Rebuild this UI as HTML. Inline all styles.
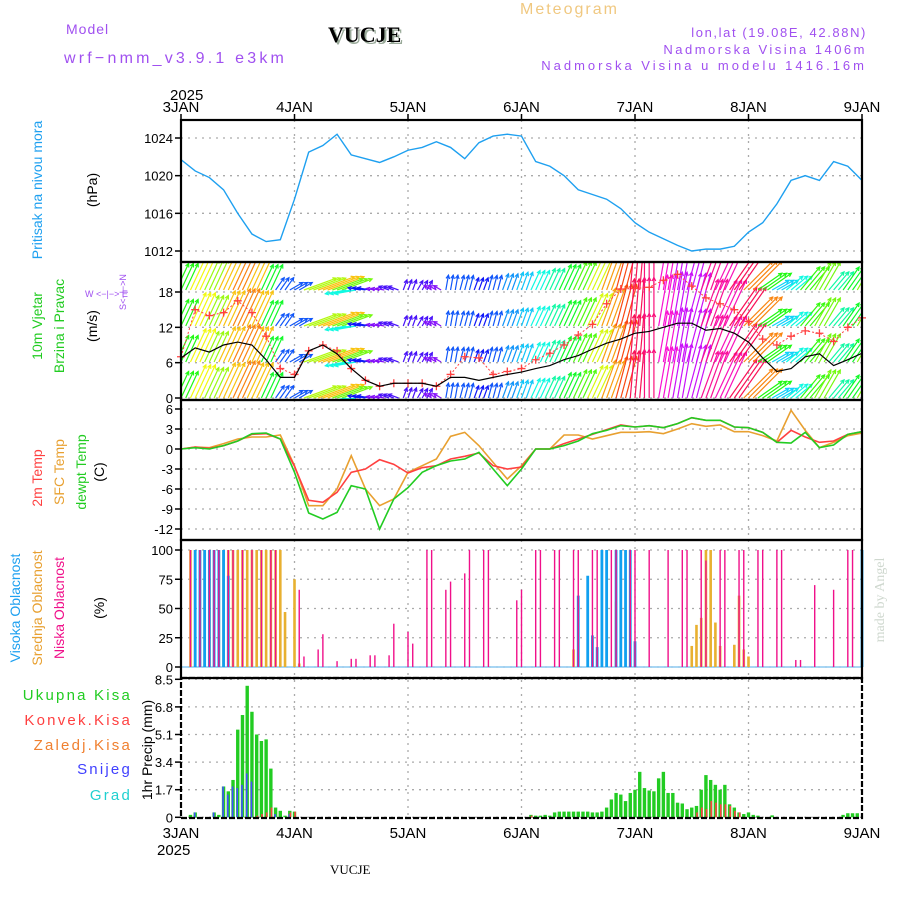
<!DOCTYPE html>
<html><head><meta charset="utf-8"><style>
body{margin:0;background:#fff}
svg{display:block;font-family:"Liberation Sans",sans-serif}
</style></head><body>
<svg id="c" width="900" height="900" viewBox="0 0 900 900" xmlns="http://www.w3.org/2000/svg">
<rect x="0" y="0" width="900" height="900" fill="#fff"/>
<text x="520" y="14" fill="#f0c880" font-size="16" letter-spacing="2">Meteogram</text>
<text x="66" y="34" fill="#a050f0" font-size="14" letter-spacing="1">Model</text>
<text x="64" y="63" fill="#a050f0" font-size="16" letter-spacing="3.2">wrf−nmm_v3.9.1 e3km</text>
<text x="330" y="44" font-family="Liberation Serif,serif" font-weight="bold" font-size="22" fill="#9a9">VUCJE</text>
<text x="328" y="42" font-family="Liberation Serif,serif" font-weight="bold" font-size="22" fill="#000">VUCJE</text>
<text x="867" y="37" text-anchor="end" fill="#a050f0" font-size="13" letter-spacing="1.6">lon,lat (19.08E, 42.88N)</text>
<text x="867" y="54" text-anchor="end" fill="#a050f0" font-size="13" letter-spacing="2.5">Nadmorska Visina 1406m</text>
<text x="867" y="70" text-anchor="end" fill="#a050f0" font-size="13" letter-spacing="3">Nadmorska Visina u modelu 1416.16m</text>
<text x="170" y="100" font-size="15">2025</text>
<text x="157" y="855" font-size="15">2025</text>
<text x="330" y="874" font-family="Liberation Serif,serif" font-size="13">VUCJE</text>
<g font-size="14">
<text transform="translate(42,190) rotate(-90)" text-anchor="middle" fill="#1ea0f0">Pritisak na nivou mora</text>
<text transform="translate(97,190) rotate(-90)" text-anchor="middle" fill="#000">(hPa)</text>
<text transform="translate(42,326) rotate(-90)" text-anchor="middle" fill="#22cc22">10m Vjetar</text>
<text transform="translate(64,326) rotate(-90)" text-anchor="middle" fill="#22cc22">Brzina i Pravac</text>
<text transform="translate(97,326) rotate(-90)" text-anchor="middle" fill="#000">(m/s)</text>
<text transform="translate(42,478) rotate(-90)" text-anchor="middle" fill="#ff4040">2m Temp</text>
<text transform="translate(64,472) rotate(-90)" text-anchor="middle" fill="#e8a030">SFC Temp</text>
<text transform="translate(86,472) rotate(-90)" text-anchor="middle" fill="#22cc22">dewpt Temp</text>
<text transform="translate(104,472) rotate(-90)" text-anchor="middle" fill="#000">(C)</text>
<text transform="translate(20,608) rotate(-90)" text-anchor="middle" fill="#1ea0f0">Visoka Oblacnost</text>
<text transform="translate(42,608) rotate(-90)" text-anchor="middle" fill="#e8a030">Srednja Oblacnost</text>
<text transform="translate(64,608) rotate(-90)" text-anchor="middle" fill="#f0108a">Niska Oblacnost</text>
<text transform="translate(104,608) rotate(-90)" text-anchor="middle" fill="#000">(%)</text>
<text transform="translate(152,750) rotate(-90)" text-anchor="middle" fill="#000">1hr Precip (mm)</text>
</g>
<g font-size="15" letter-spacing="2.2" text-anchor="end">
<text x="132" y="700" fill="#22cc22">Ukupna Kisa</text>
<text x="132" y="725" fill="#ff4040">Konvek.Kisa</text>
<text x="132" y="750" fill="#f08030">Zaledj.Kisa</text>
<text x="132" y="774" fill="#4040ff">Snijeg</text>
<text x="132" y="800" fill="#20d0d0">Grad</text>
</g>
<g font-size="9" fill="#a050f0">
<text transform="translate(126,292) rotate(-90)" text-anchor="middle">S&lt;−|−&gt;N</text>
<text x="85" y="297">W  &lt;−|−&gt;  E</text>
</g>
<text transform="translate(884,600) rotate(-90)" text-anchor="middle" font-family="Liberation Serif,serif" font-size="14" fill="#cfd8cf">made by Angel</text>
<defs>
<clipPath id="cp1"><rect x="181" y="120" width="681" height="142"/></clipPath>
<clipPath id="cp2"><rect x="181" y="262" width="681" height="138"/></clipPath>
<clipPath id="cp3"><rect x="181" y="400" width="681" height="140"/></clipPath>
</defs>
<g id="g"></g>
</svg>
<script>
// ---- data (3-hourly, 49 points from 3 JAN 00 to 9 JAN 00) ----
const days = ["3JAN","4JAN","5JAN","6JAN","7JAN","8JAN","9JAN"];
const pressure = [1021.7,1020.5,1019.8,1018.5,1016,1013.8,1013,1013.2,1017.5,1022.5,1023.2,1024.4,1022.2,1021.8,1021.4,1022,1022.7,1023,1023.6,1023,1021.8,1023.5,1024.2,1024.4,1024.2,1021.5,1021,1020,1018.5,1018,1017.5,1016.5,1015,1014,1013.3,1012.6,1012,1012.2,1012.2,1012.5,1014,1015,1017,1019.5,1020,1019.5,1021.5,1021,1019.5];
const pressureTicks = [1012,1016,1020,1024];
const windSpeed = [6.8,8.5,7.8,9,9.5,9,6.5,3.5,3.5,8,9,7.5,5,3,2,2.5,2.5,2.5,2,3.5,3.5,3,3.5,4,4.4,5,5.5,6.5,7.2,8.3,9.3,10,11,11.3,12,12.7,12.7,11.5,11.8,11,9.5,6.8,4.5,5,7,7.5,5.5,6.5,7.6];
const windGust = [7,15,14,14.5,16.5,14.5,10.5,5,4,8,9,8,5,3,2,2.5,2.5,2.5,2,4,7,6.8,4,4.5,5,6.5,7.6,9,10.7,12.5,16,18.5,18.6,18.8,20,21,19,17,16,15,13,10,9,10.5,11.4,11,9.6,12,13.6];
const windDir = [25,25,25,25,25,25,25,35,60,70,70,70,260,280,280,290,20,30,300,10,15,20,15,20,20,25,25,25,25,25,20,15,5,0,10,10,15,20,25,35,45,55,60,50,40,30,40,35,30];
const windTicks = [0,6,12,18];
const temp2m = [0,0.3,0.1,0.5,1.2,2.2,2.3,1.5,-2.6,-7.7,-8,-6.5,-3.5,-3,-1.6,-2.3,-3.6,-2.8,-2.5,-1.5,-1.1,-0.6,-2.5,-3,-2.7,0,0,0.8,1.5,2.2,2.9,3.6,3.3,3.5,3.2,3.8,4.7,4.3,4.3,3.3,3.2,2.5,1.0,2.8,1.8,1,1.2,2.2,2.6];
const tempSfc = [0,0.3,0.2,0.8,1.5,1.8,1.8,2.1,-2.5,-8.5,-8.5,-6,-1,-6,-8.5,-7.5,-3.5,-2.5,-1.5,1.9,2.5,0.5,-2,-4.5,-2.5,0,0,2.1,2.1,1.5,2,2.5,2.5,2.6,2.3,3,3.8,3.4,3.6,2.6,2.6,2.0,1.2,5.8,2.8,0.2,1.0,2.0,2.4];
const tempDew = [0,0.2,0,0.5,1.2,2.3,2.4,1.5,-3.5,-9.6,-10.5,-9.5,-5.5,-6,-12,-7.5,-5.8,-3.5,-2.5,-1.8,-1.5,-0.5,-3,-5.5,-3,0,0,0.5,1.2,2.3,2.8,3.5,3.3,3.5,3.2,3.8,4.7,4.3,4.3,3.3,3.2,2.5,1.0,0.9,2.5,0.2,0.6,2.2,2.6];
const tempTicks = [-12,-9,-6,-3,0,3,6];
// clouds (hour index, percent)
const lowHours = [2,4,6,7,8,10,11,13,15,17,19,20,25,26,29,30,33,36,37,40,41,44,45,48,49,52,53,56,57,60,61,64,65,71,72,75,76,79,80,83,84,87,88,91,92,95,96,99,103,106,107,110,111,114,115,118,119,122,123,126,127,130,131,134,138,141,142];
const lowVals  = [100,100,100,100,100,100,100,100,100,100,100,100,66,9,15,28,5,7,7,10,10,10,37,30,20,100,100,66,73,80,100,100,100,57,66,100,100,100,100,100,100,100,100,100,100,100,100,100,100,100,100,100,91,100,100,100,100,100,100,100,100,6,6,70,66,100,100];
const midHours = [2,3,4,5,6,7,8,9,10,11,12,13,14,15,16,17,18,19,20,21,22,24,25,83,92,108,109,110,111,112,113,114,117,118,119,120];
const midVals  = [100,100,100,100,100,100,100,100,100,100,100,100,100,100,100,100,100,100,100,100,47,75,3,15,56,18,36,42,100,100,38,18,19,61,15,9];
const highHours = [3,4,5,6,7,8,9,10,84,86,87,88,89,90,92,93,94,95,96,144];
const highVals  = [100,100,100,100,100,100,100,78,61,78,27,17,100,100,100,100,100,100,22,100];
const cloudTicks = [0,25,50,75,100];
// precipitation (hour index, mm)
const precipHours = [2,3,7,8,9,10,11,12,13,14,15,16,17,18,19,20,21,22,23,24,74,75,76,77,78,79,80,81,82,83,84,85,86,87,88,89,90,91,92,93,94,95,96,97,98,99,100,101,102,103,104,105,106,107,108,109,110,111,112,113,114,115,116,117,118,119,120,121,122,125,140,141,142,143];
const precipTotal = [0.15,0.3,0.3,0.15,1.9,1.6,2.3,5.4,6.3,8.1,6.5,5.1,4.7,4.8,3.0,0.6,0.4,0.1,0.4,0.35,0.15,0.1,0.1,0.15,0.1,0.3,0.35,0.35,0.35,0.35,0.35,0.35,0.35,0.3,0.3,0.35,0.6,1.1,1.5,1.4,1.0,1.5,1.7,2.8,1.8,1.65,1.6,2.4,2.8,1.5,1.5,0.9,0.85,0.5,0.6,0.7,1.7,2.6,2.3,2.0,1.7,2.0,0.8,0.6,0.3,0.2,0.3,0.15,0.1,0.12,0.15,0.25,0.25,0.25];
const precipConv  = [0,0,0,0,0,0,0,0,0,0,0,0.1,0.2,0.3,0.6,0,0,0,0.3,0.35,0.1,0,0,0,0,0,0,0,0,0,0,0,0,0,0,0,0,0,0,0,0,0,0,0,0,0,0,0,0,0,0,0,0,0,0,0.3,0.6,0.5,1.0,0.9,0.8,0.8,0.7,0.4,0.3,0,0,0,0,0,0,0,0,0];
const precipSnow  = [0,0.3,0.3,0,1.9,1.4,1.9,1.8,2.0,2.7,2.2,0,0,0,0,0.2,0,0,0.2,0,0,0,0,0,0,0,0,0,0,0,0,0,0,0,0,0,0,0,0,0,0,0,0,0,0,0,0,0,0,0,0,0,0,0,0,0,0,0,0,0,0,0,0,0,0,0,0,0,0,0,0,0,0,0];
const precipTicks = [0,1.7,3.4,5.1,6.8,8.5];

// ---- axes ----
const X0=181, X1=862, HOURS=144;
const xh = h => X0 + h*(X1-X0)/HOURS;
const xi = i => xh(i*3);
const yP = v => 138 + (1024-v)*(251-138)/12;
const yW = v => 398 - v*(398-292)/18;
const yTc = v => 449 - v*(120/18);
const yC = v => 667 - v*(117/100);
const yR = v => 817.3 - v*(138/8.5);
const NS="http://www.w3.org/2000/svg";
const G=document.getElementById('g');
function mk(tag, attrs, parent){const e=document.createElementNS(NS,tag);for(const k in attrs)e.setAttribute(k,attrs[k]);(parent||G).appendChild(e);return e;}
const panels=[[120,262],[262,400],[400,540],[540,678],[678,818]];

function hgrid(ticks, yf, name){
  ticks.forEach(t=>{
    const y=yf(t);
    const l=mk('line',{x1:X0,x2:X1,y1:y,y2:y,stroke:'#aaa','stroke-width':1.3,'stroke-dasharray':'2,5'});
    
    
    const tk=mk('line',{x1:X0-6,x2:X0,y1:y,y2:y,stroke:'#000','stroke-width':1.5});
    
    
    const tx=mk('text',{x:X0-8,y:y+5,'text-anchor':'end','font-size':13});
    tx.textContent=t;
    
    
  });
}
hgrid(pressureTicks,yP,'pressure');
hgrid(windTicks,yW,'wind');
hgrid(tempTicks,yTc,'temp');
hgrid(cloudTicks,yC,'cloud');
hgrid(precipTicks,yR,'precip');
days.forEach((d,i)=>{
  const x=xh(i*24);
  if(i>0&&i<6){
    const l=mk('line',{x1:x,x2:x,y1:120,y2:818,stroke:'#aaa','stroke-width':1.3,'stroke-dasharray':'2,5'});
    
    
  }
  const t=mk('text',{x:x,y:112,'text-anchor':'middle','font-size':15});
  t.textContent=d;
  
  
  const b=mk('text',{x:x,y:838,'text-anchor':'middle','font-size':15});
  b.textContent=d;
  
  
  const tk=mk('line',{x1:x,x2:x,y1:114,y2:120,stroke:'#000','stroke-width':1.5});
  
  
});

const pl=mk('polyline',{points:pressure.map((v,i)=>xi(i)+','+yP(v)).join(' '),fill:'none',stroke:'#1ea0f0','stroke-width':1.4,'clip-path':'url(#cp1)'});



const wg=mk('g',{'clip-path':'url(#cp2)'});


const bases=[290,326,362,398];
windSpeed.forEach((s,i)=>{
  const hue=((270-(s-2)*32)%360+360)%360;
  const col='hsl('+hue+',95%,52%)';
  const a=windDir[i]*Math.PI/180, L=4.3*s;
  [-4.73,0,4.73].forEach(dx=>{
    bases.forEach(by=>{
      const x1=xi(i)+dx, x2=x1+L*Math.sin(a), y2=by-L*Math.cos(a);
      const ar=mk('line',{x1:x1,y1:by,x2:x2,y2:y2,stroke:col,'stroke-width':1.2},wg);
      
      
      const h1=a+Math.PI*0.85, h2=a-Math.PI*0.85;
      const hd=mk('polyline',{points:(x2+4*Math.sin(h1))+','+(y2-4*Math.cos(h1))+' '+x2+','+y2+' '+(x2+4*Math.sin(h2))+','+(y2-4*Math.cos(h2)),fill:'none',stroke:col,'stroke-width':1.2},wg);
      
      
    });
  });
});
const gl=mk('polyline',{points:windGust.map((v,i)=>xi(i)+','+yW(v)).join(' '),fill:'none',stroke:'#ff4040','stroke-width':1,'stroke-dasharray':'2,2','clip-path':'url(#cp2)'});


windGust.forEach((v,i)=>{
  const x=xi(i),y=yW(v);
  if(y<263) return;
  const m=mk('path',{d:'M'+(x-4)+','+y+'h8M'+x+','+(y-4)+'v8',stroke:'#ff4040','stroke-width':1.3});
  
  
});
const sl=mk('polyline',{points:windSpeed.map((v,i)=>xi(i)+','+yW(v)).join(' '),fill:'none',stroke:'#000','stroke-width':1.2});



[[tempSfc,'#e8a030','sfc-temp-line'],[temp2m,'#ff4040','temp-2m-line'],[tempDew,'#22cc22','dewpoint-line']].forEach(([arr,c,n])=>{
  const p=mk('polyline',{points:arr.map((v,i)=>xi(i)+','+yTc(v)).join(' '),fill:'none',stroke:c,'stroke-width':1.6,'clip-path':'url(#cp3)'});
  
  
});

const base=mk('line',{x1:X0,x2:X1,y1:yC(0),y2:yC(0),stroke:'#8cc8f0','stroke-width':1.5});


midHours.forEach((h,k)=>{
  const r=mk('rect',{x:xh(h)-1.3,y:yC(midVals[k]),width:2.6,height:yC(0)-yC(midVals[k]),fill:'#e8b030'});
  
  
});
highHours.forEach((h,k)=>{
  const r=mk('rect',{x:xh(h)-1.4,y:yC(highVals[k]),width:2.8,height:yC(0)-yC(highVals[k]),fill:'#10a0f0'});
  
  
});
lowHours.forEach((h,k)=>{
  const r=mk('rect',{x:xh(h)-0.7,y:yC(lowVals[k]),width:1.4,height:yC(0)-yC(lowVals[k]),fill:'#f0108a'});
  
  
});

precipHours.forEach((h,k)=>{
  const x=xh(h);
  const r=mk('rect',{x:x-1.7,y:yR(precipTotal[k]),width:3.4,height:yR(0)-yR(precipTotal[k]),fill:'#22cc22'});
  
  
  if(precipSnow[k]>0){
    const s=mk('rect',{x:x-1.3,y:yR(precipSnow[k]),width:1.6,height:yR(0)-yR(precipSnow[k]),fill:'#4050ff'});
    
    
  }
  if(precipConv[k]>0){
    const c=mk('rect',{x:x-0.2,y:yR(precipConv[k]),width:1.6,height:yR(0)-yR(precipConv[k]),fill:'#ff4040'});
    
    
  }
});

panels.forEach(([a,b],i)=>{
  const r=mk('rect',{x:X0,y:a,width:X1-X0,height:b-a,fill:'none',stroke:'#000','stroke-width':2.2,'stroke-dasharray':i==4?'6,2':'none'});
  
  
});
</script>
</body></html>
